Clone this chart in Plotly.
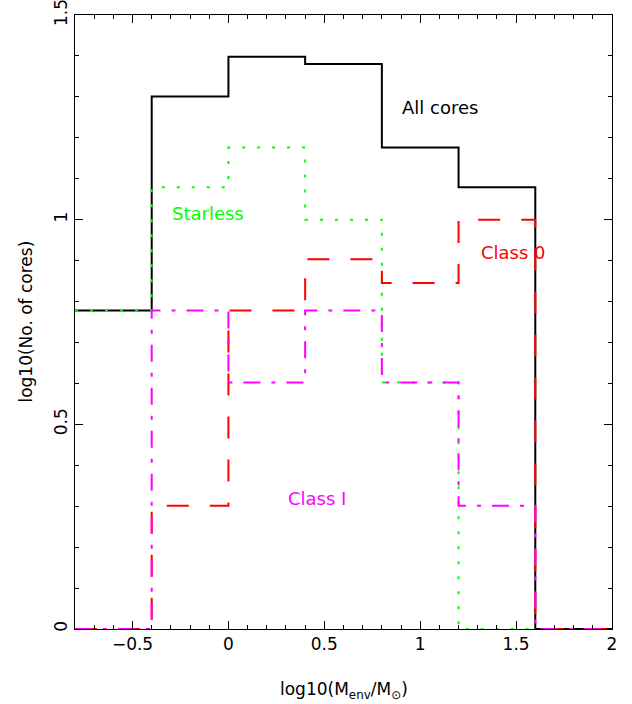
import math
import plotly.graph_objects as go

# Bin edges in log10(M_env/M_sun)
bin_edges = [-0.8, -0.4, 0.0, 0.4, 0.8, 1.2, 1.6, 2.0]

# Number of cores per bin (read from the log10 step heights)
all_cores = [6, 20, 25, 24, 15, 12, 0]
starless = [6, 12, 15, 10, 4, 0, 0]
class_0 = [0, 2, 6, 8, 7, 10, 0]
class_1 = [0, 6, 4, 6, 4, 2, 0]

series_names = ["All cores", "Starless", "Class 0", "Class I"]
x_tick_vals = [-0.5, 0, 0.5, 1, 1.5, 2]
x_tick_text = ["\u22120.5", "0", "0.5", "1", "1.5", "2"]
y_tick_vals = [0, 0.5, 1, 1.5]
y_tick_text = ["0", "0.5", "1", "1.5"]


def log_counts(counts):
    vals = [math.log10(c) if c > 0 else 0.0 for c in counts]
    return vals + [vals[-1]]


FONT = "DejaVu Sans"
styles = [
    dict(color="#000000", width=2, dash="solid"),
    dict(color="#00ff00", width=2, dash="3px,12px"),
    dict(color="#ff0000", width=2, dash="22px,21px"),
    dict(color="#ff00ff", width=2, dash="17px,11px,4px,11px"),
]

fig = go.Figure()
for name, counts, st in zip(series_names, [all_cores, starless, class_0, class_1], styles):
    fig.add_trace(go.Scatter(
        x=bin_edges, y=log_counts(counts), mode="lines", name=name,
        line=dict(shape="hv", **st), showlegend=False, hoverinfo="skip",
    ))

labels = [
    ("All cores", 1.105, 1.273, "#000000"),
    ("Starless", -0.104, 1.016, "#00ff00"),
    ("Class 0", 1.485, 0.919, "#ff0000"),
    ("Class I", 0.464, 0.318, "#ff00ff"),
]
for txt, lx, ly, col in labels:
    fig.add_annotation(x=lx, y=ly, text=txt, showarrow=False,
                       font=dict(family=FONT, size=18, color=col),
                       xanchor="center", yanchor="middle")

# axis titles
fig.add_annotation(xref="paper", yref="paper", x=0.5, y=-0.1,
                   text="log10(M<sub>env</sub>/M<sub>\u2299</sub>)", showarrow=False,
                   font=dict(family=FONT, size=17, color="#000000"),
                   xanchor="center", yanchor="middle")
fig.add_annotation(xref="paper", yref="paper", x=-0.092, y=0.5,
                   text="log10(No. of cores)", showarrow=False, textangle=-90,
                   font=dict(family=FONT, size=17, color="#000000"),
                   xanchor="center", yanchor="middle")

axis_common = dict(
    showgrid=False, zeroline=False, showline=True, linecolor="#000000", linewidth=1,
    mirror="ticks", ticks="inside", ticklen=8, tickwidth=1, tickcolor="#000000",
    tickfont=dict(family=FONT, size=17, color="#000000"), automargin=False,
    ticklabeloverflow="allow",
)
fig.update_xaxes(range=[-0.8, 2.0], tickvals=x_tick_vals, ticktext=x_tick_text,
                 minor=dict(dtick=0.1, tick0=0, ticks="inside", ticklen=4, tickcolor="#000000"),
                 **axis_common)
fig.update_yaxes(range=[0, 1.5], tickvals=y_tick_vals, ticktext=y_tick_text, tickangle=-90,
                 minor=dict(dtick=0.1, tick0=0, ticks="inside", ticklen=4, tickcolor="#000000"),
                 **axis_common)

fig.update_layout(
    width=632, height=704,
    margin=dict(l=75, r=20, t=15, b=75, autoexpand=False),
    plot_bgcolor="#ffffff", paper_bgcolor="#ffffff",
    font=dict(family=FONT, color="#000000"),
)

fig.write_html(
    "out.html",
    config={"displayModeBar": False},
    post_script="document.body.style.margin='0';document.body.style.overflow='hidden';",
)
